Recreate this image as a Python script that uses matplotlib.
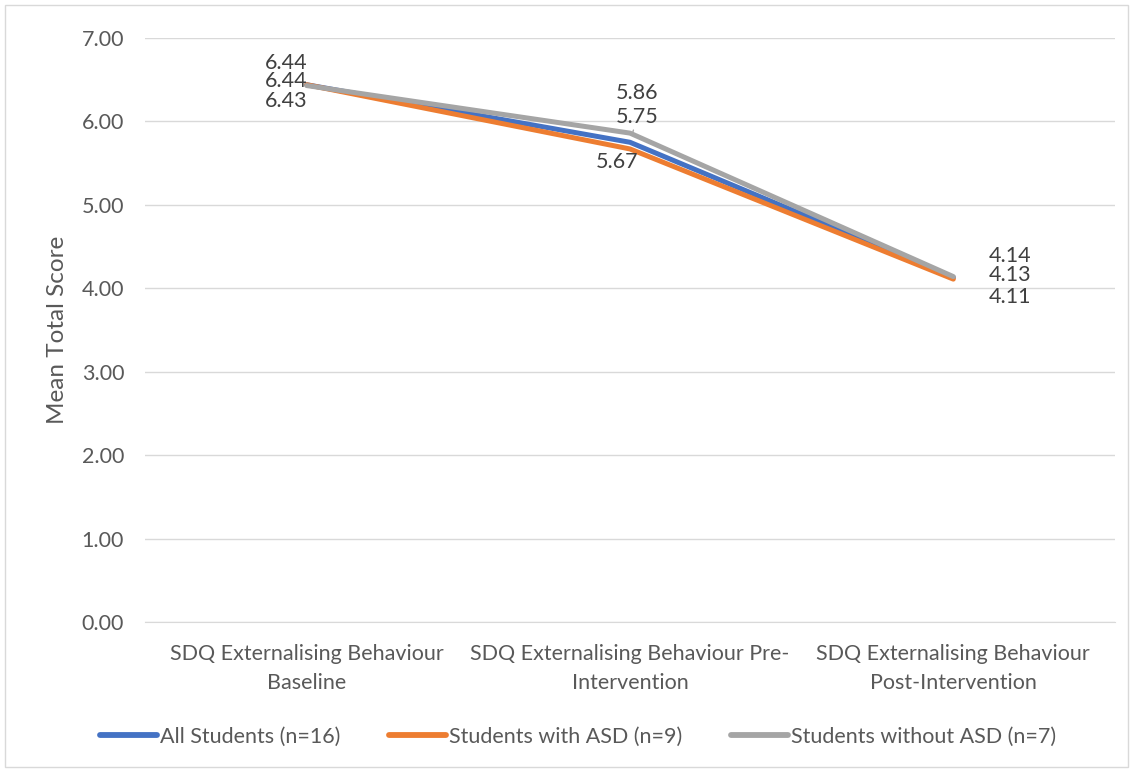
import matplotlib
matplotlib.use("Agg")
import matplotlib.pyplot as plt
from matplotlib.patches import Rectangle

categories = ["SDQ Externalising Behaviour\nBaseline",
              "SDQ Externalising Behaviour Pre-\nIntervention",
              "SDQ Externalising Behaviour\nPost-Intervention"]
all_students = [6.44, 5.75, 4.13]
with_asd = [6.44, 5.67, 4.11]
without_asd = [6.43, 5.86, 4.14]
series_names = ["All Students (n=16)", "Students with ASD (n=9)", "Students without ASD (n=7)"]
colors = ["#4472C4", "#ED7D31", "#A5A5A5"]
yticks = [0, 1, 2, 3, 4, 5, 6, 7]

plt.rcParams['font.family'] = ['Lato', 'DejaVu Sans']
W, H = 1133, 769
fig = plt.figure(figsize=(W / 100, H / 100), dpi=100)
ax = fig.add_axes([145 / W, 1 - 622 / H, (1115 - 145) / W, (622 - 38) / H])

x = list(range(len(categories)))
series = [all_students, with_asd, without_asd]
for vals, name, c in zip(series, series_names, colors):
    ax.plot(x, vals, color=c, lw=3.6, label=name, solid_capstyle='round',
            solid_joinstyle='round', zorder=3)

ax.set_xlim(-0.5, 2.5)
ax.set_ylim(0, 7)
ax.set_yticks(yticks)
ax.set_yticklabels([f"{v:.2f}" for v in yticks])
ax.set_xticks(x)
ax.set_xticklabels(categories)
ax.grid(axis='y', color='#D9D9D9', lw=1)
ax.set_axisbelow(True)
for s in ['top', 'right', 'left']:
    ax.spines[s].set_visible(False)
ax.spines['bottom'].set_color('#D9D9D9')
ax.tick_params(axis='both', length=0, colors='#595959', labelsize=15.5)
ax.tick_params(axis='y', pad=15)
ax.tick_params(axis='x', pad=16)
for lab in ax.get_xticklabels():
    lab.set_linespacing(1.55)
ax.set_ylabel("Mean Total Score", fontsize=17.5, color='#595959', labelpad=10)

# data labels: offsets in pixels (dx, dy) per series per point
offsets = {
    0: [(-20, 4), (7, 25), (57, 2)],      # All
    1: [(-20, 22), (-13, -13), (57, -18)], # with ASD
    2: [(-20, -15), (7, 40), (57, 21)],    # without ASD
}
for si, vals in enumerate(series):
    for pi, v in enumerate(vals):
        dx, dy = offsets[si][pi]
        kw = {}
        if si == 0 and pi == 1:
            kw['arrowprops'] = dict(arrowstyle='-', color='#A5A5A5', lw=1,
                                    shrinkA=10, shrinkB=7)
        ax.annotate(f"{v:.2f}", xy=(pi, v), xytext=(dx, dy),
                    textcoords='offset pixels', ha='center', va='center',
                    fontsize=15.5, color='#404040', zorder=5, **kw)

leg = fig.legend(loc='center', bbox_to_anchor=(578 / W, 1 - 737 / H), ncol=3,
                 frameon=False, fontsize=15.5, handlelength=2.65, handletextpad=0.1,
                 columnspacing=2.3)
for t in leg.get_texts():
    t.set_color('#595959')
for l in leg.get_lines():
    l.set_linewidth(4.2)

fig.patches.append(Rectangle((5 / W, 0.003), 1 - 10 / W, 1 - 0.01,
                             transform=fig.transFigure, fill=False,
                             edgecolor='#D9D9D9', lw=1))
fig.savefig("out.png", dpi=100)
